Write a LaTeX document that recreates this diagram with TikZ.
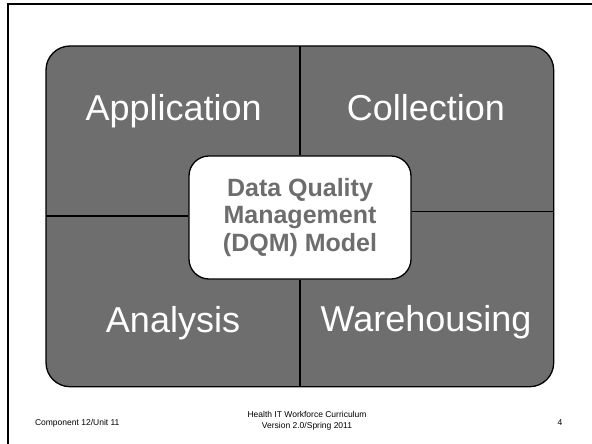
\documentclass[tikz,border=0pt]{standalone}
\usepackage{fontspec}
\setmainfont{Liberation Sans}
\usepackage{xcolor}
\definecolor{quadgray}{HTML}{6E6E6E}
\definecolor{titlegray}{HTML}{6D6D6D}

\begin{document}
\begin{tikzpicture}[x=1pt,y=-1pt,
  quadlabel/.style={text=white,font=\fontsize{36}{40}\selectfont,anchor=base},
  footlabel/.style={font=\fontsize{8.5}{10.5}\selectfont,align=center}]
\useasboundingbox (0,0) rectangle (592,444);
\draw[line width=2pt] (8,444) -- (8,4.5) -- (592,4.5);

\filldraw[fill=quadgray,line width=1.3pt,rounded corners=24pt] (46,46) rectangle (553.7,386.7);
\node[draw,line width=1.3pt,fill=white,rounded corners=20pt,minimum width=222pt,minimum height=123pt,
  inner sep=0pt,text=titlegray,align=center,font=\bfseries\fontsize{25}{27.5}\selectfont] (dqm) at (300,217.5)
  {Data Quality\\Management\\(DQM) Model};

\coordinate (top) at (300,46);
\coordinate (bottom) at (300,386.7);
\coordinate (left) at (46,216);
\coordinate (right) at (553.7,211.5);
\draw[line width=1.3pt] (top) -- (dqm.north);
\draw[line width=1.3pt] (dqm.south) -- (bottom);
\draw[line width=1.3pt] (left) -- (dqm.west |- left);
\draw[line width=1.3pt] (dqm.east |- right) -- (right);

\node[quadlabel] (app) at (173.7,121) {Application};
\node[quadlabel] (coll) at (426,121) {Collection};
\node[quadlabel] (ana) at (173,332) {Analysis};
\node[quadlabel] (ware) at (426,331) {Warehousing};

\node[footlabel,anchor=west] (unit) at (31.5,423) {Component 12/Unit 11};
\node[footlabel] (curr) at (307,421) {Health IT Workforce Curriculum\\Version 2.0/Spring 2011};
\node[footlabel] (page) at (560,423) {4};
\end{tikzpicture}
\end{document}
